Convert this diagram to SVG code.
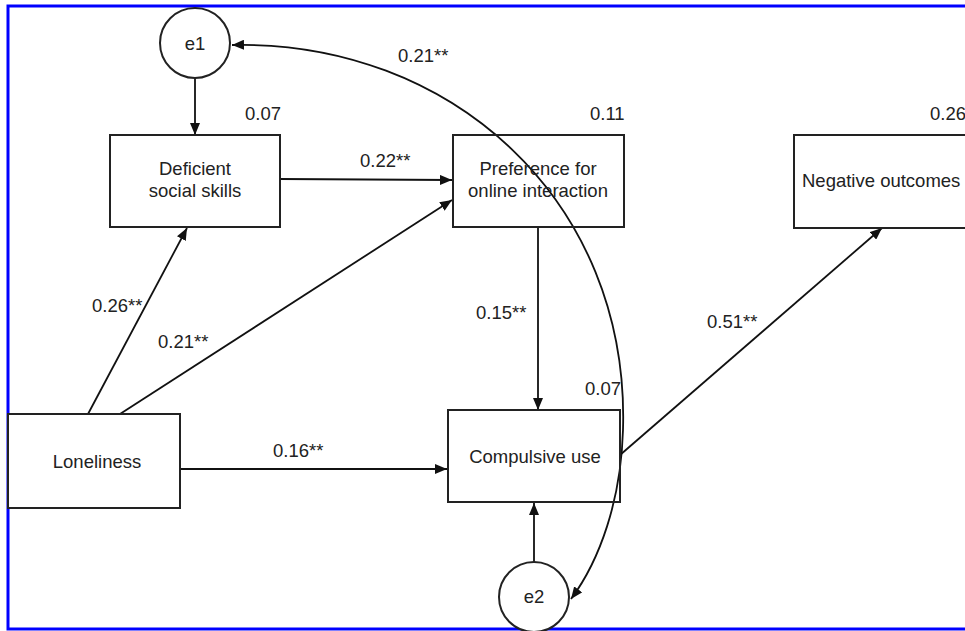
<svg xmlns="http://www.w3.org/2000/svg" width="965" height="631" viewBox="0 0 965 631">
<defs>
<marker id="ah" viewBox="0 0 12 10" refX="12" refY="5" markerWidth="12" markerHeight="10" markerUnits="userSpaceOnUse" orient="auto-start-reverse">
<path d="M0,0 L12,5 L0,10 z" fill="#111"/>
</marker>
<style>
.box{fill:#fff;stroke:#222;stroke-width:2}
.t{font-family:"Liberation Sans",Arial,sans-serif;font-size:18.5px;fill:#222}
.m{text-anchor:middle}
.c{fill:none;stroke:#111;stroke-width:1.8}
</style>
</defs>
<rect width="965" height="631" fill="#fff"/>
<path d="M965,6 L8,6 L8,629 L965,629" fill="none" stroke="#0000ff" stroke-width="3"/>

<g id="connectors">
<line class="c" x1="195" y1="78" x2="195" y2="135" marker-end="url(#ah)"/>
<line class="c" x1="280" y1="179" x2="452" y2="180" marker-end="url(#ah)"/>
<line class="c" x1="88" y1="414" x2="187" y2="228" marker-end="url(#ah)"/>
<line class="c" x1="120" y1="414" x2="452" y2="200" marker-end="url(#ah)"/>
<line class="c" x1="538" y1="227" x2="538" y2="410" marker-end="url(#ah)"/>
<line class="c" x1="180" y1="469" x2="447" y2="469" marker-end="url(#ah)"/>
<line class="c" x1="534" y1="562" x2="534" y2="503" marker-end="url(#ah)"/>
<line class="c" x1="620" y1="455" x2="882" y2="228" marker-end="url(#ah)"/>
<path class="c" d="M232,45 C450,40 630,200 623,430 C621,500 600,560 571,599" marker-start="url(#ah)" marker-end="url(#ah)"/>
</g>

<g id="e1">
<circle cx="195" cy="43" r="35" fill="#fff" stroke="#222" stroke-width="2"/>
<text class="t m" x="195" y="50">e1</text>
</g>
<g id="deficient">
<rect class="box" x="110" y="135" width="170" height="92"/>
<text class="t m" x="195" y="175">Deficient</text>
<text class="t m" x="195" y="197">social skills</text>
<text class="t" x="245" y="120">0.07</text>
</g>
<g id="preference">
<rect class="box" x="453" y="135" width="171" height="92" style="fill:none"/>
<text class="t m" x="538" y="175">Preference for</text>
<text class="t m" x="538" y="197">online interaction</text>
<text class="t" x="590" y="120">0.11</text>
</g>
<g id="negative">
<rect class="box" x="794" y="135" width="180" height="93"/>
<text class="t" x="802" y="187">Negative outcomes</text>
<text class="t" x="930" y="120">0.26</text>
</g>
<g id="loneliness">
<rect class="box" x="8" y="414" width="172" height="94"/>
<text class="t m" x="97" y="468">Loneliness</text>
</g>
<g id="compulsive">
<rect class="box" x="448" y="410" width="172" height="92" style="fill:none"/>
<text class="t m" x="535" y="463">Compulsive use</text>
<text class="t" x="585" y="395">0.07</text>
</g>
<g id="e2">
<circle cx="534" cy="597" r="35" fill="#fff" stroke="#222" stroke-width="2"/>
<text class="t m" x="534" y="603">e2</text>
</g>

<g id="labels">
<text class="t" x="398" y="62">0.21**</text>
<text class="t" x="360" y="167">0.22**</text>
<text class="t" x="92" y="312">0.26**</text>
<text class="t" x="158" y="348">0.21**</text>
<text class="t" x="476" y="319">0.15**</text>
<text class="t" x="273" y="457">0.16**</text>
<text class="t" x="707" y="328">0.51**</text>
</g>
</svg>
